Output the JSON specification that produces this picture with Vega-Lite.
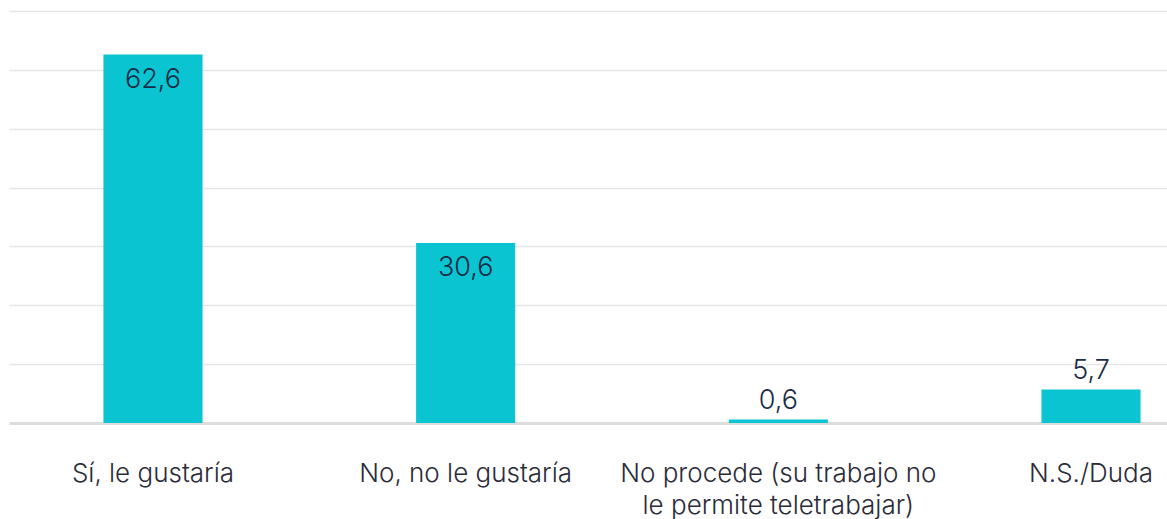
{
  "$schema": "https://vega.github.io/schema/vega-lite/v6.json",
  "width": 1158,
  "height": 412,
  "autosize": "none",
  "padding": {"left": 9, "top": 11, "right": 0, "bottom": 96},
  "background": "white",
  "config": {
    "view": {"stroke": null},
    "locale": {"number": {"decimal": ",", "thousands": ".", "grouping": [3], "currency": ["", " €"]}},
    "font": "Inter"
  },
  "data": {
    "values": [
      {"respuesta": "Sí, le gustaría", "valor": 62.6},
      {"respuesta": "No, no le gustaría", "valor": 30.6},
      {"respuesta": "No procede (su trabajo no le permite teletrabajar)", "valor": 0.6},
      {"respuesta": "N.S./Duda", "valor": 5.7}
    ]
  },
  "encoding": {
    "x": {
      "field": "respuesta",
      "type": "nominal",
      "sort": null,
      "scale": {"range": [0, 1226], "paddingInner": 0.683, "paddingOuter": 0.302},
      "axis": {
        "title": null,
        "labelAngle": 0,
        "labelFont": "Inter",
        "labelFontSize": 26,
        "labelFontWeight": 300,
        "labelColor": "#2b2b38",
        "labelPadding": 37,
        "labelLineHeight": 32,
        "labelBaseline": "top",
        "labelLimit": 400,
        "ticks": false,
        "domainColor": "#dddddd",
        "domainWidth": 3,
        "labelExpr": "datum.label == 'No procede (su trabajo no le permite teletrabajar)' ? ['No procede (su trabajo no', 'le permite teletrabajar)'] : datum.label"
      }
    },
    "y": {
      "field": "valor",
      "type": "quantitative",
      "scale": {"domain": [0, 70], "nice": false},
      "axis": {
        "title": null,
        "labels": false,
        "ticks": false,
        "domain": false,
        "values": [10, 20, 30, 40, 50, 60, 70],
        "gridColor": "#e6e6e6",
        "gridWidth": 1.5
      }
    }
  },
  "layer": [
    {"mark": {"type": "bar", "color": "#0bc4d1"}},
    {
      "transform": [{"filter": "datum.valor > 20"}],
      "mark": {"type": "text", "baseline": "top", "dy": 12, "fontSize": 27, "fontWeight": 300, "color": "#1b2c45", "font": "Inter"},
      "encoding": {"text": {"field": "valor", "type": "quantitative", "format": ".1f"}}
    },
    {
      "transform": [{"filter": "datum.valor <= 20"}],
      "mark": {"type": "text", "baseline": "bottom", "dy": -4, "fontSize": 27, "fontWeight": 300, "color": "#1b2c45", "font": "Inter"},
      "encoding": {"text": {"field": "valor", "type": "quantitative", "format": ".1f"}}
    }
  ]
}
